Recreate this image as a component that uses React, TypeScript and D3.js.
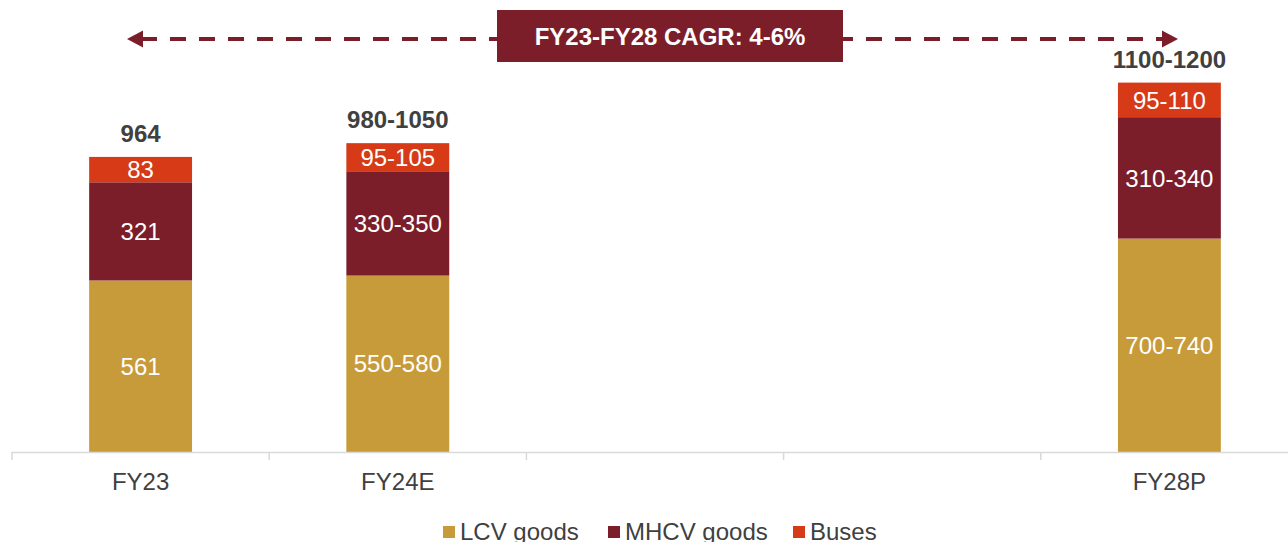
import React from "react";
import * as d3 from "d3";

const categories = ["FY23", "FY24E", "", " ", "FY28P"];
const lcvValues = [561, 577, null, null, 698];
const mhcvValues = [321, 341, null, null, 397];
const busValues = [83, 92, null, null, 113];
const lcvLabels = ["561", "550-580", "", "", "700-740"];
const mhcvLabels = ["321", "330-350", "", "", "310-340"];
const busLabels = ["83", "95-105", "", "", "95-110"];
const totalLabels = ["964", "980-1050", "", "", "1100-1200"];
const seriesNames = ["LCV goods", "MHCV goods", "Buses"];
const seriesColors = ["#C89B3A", "#7B1E2A", "#D63A16"];
const cagrText = "FY23-FY28 CAGR: 4-6%";

const W = 1288;
const H = 542;

export default function App() {
  const x = d3
    .scaleBand<string>()
    .domain(categories)
    .range([12, 1298])
    .paddingInner(0.6)
    .paddingOuter(0.3);
  const step = x.step();
  const y = d3.scaleLinear().domain([0, 1210]).range([452, 82]);

  const series = [lcvValues, mhcvValues, busValues];
  const labels = [lcvLabels, mhcvLabels, busLabels];

  const bars: React.ReactNode[] = [];
  categories.forEach((c, i) => {
    if (lcvValues[i] == null) return;
    let acc = 0;
    const bx = x(c)!;
    const bw = x.bandwidth();
    series.forEach((s, k) => {
      const v = s[i] as number;
      const y0 = y(acc);
      const y1 = y(acc + v);
      acc += v;
      bars.push(
        <g key={`${i}-${k}`}>
          <rect x={bx} y={y1} width={bw} height={y0 - y1} fill={seriesColors[k]} />
          <text
            x={bx + bw / 2}
            y={(y0 + y1) / 2}
            dy="0.36em"
            textAnchor="middle"
            fill="#ffffff"
            fontSize={24}
          >
            {labels[k][i]}
          </text>
        </g>
      );
    });
    bars.push(
      <text
        key={`t-${i}`}
        x={bx + bw / 2}
        y={y(acc) - 15}
        textAnchor="middle"
        fill="#404040"
        fontSize={24}
        fontWeight="bold"
      >
        {totalLabels[i]}
      </text>
    );
  });

  const ticks = d3.range(categories.length + 1).map((i) => 12 + i * step);
  const arrowY = 39;
  const arrowColor = "#7B1E2A";
  const leftTip = 127;
  const rightTip = 1178;

  const legendX = [443, 608, 793];

  return (
    <svg
      width={W}
      height={H}
      style={{ position: "absolute", left: 0, top: 0, fontFamily: "Arial, 'Liberation Sans', sans-serif" }}
    >
      <rect width={W} height={H} fill="#ffffff" />
      {/* arrow */}
      <line
        x1={leftTip + 14}
        x2={rightTip - 14}
        y1={arrowY}
        y2={arrowY}
        stroke={arrowColor}
        strokeWidth={4}
        strokeDasharray="16 13"
      />
      <path d={`M${leftTip},${arrowY} L${leftTip + 16},${arrowY - 8.5} L${leftTip + 16},${arrowY + 8.5} Z`} fill={arrowColor} />
      <path d={`M${rightTip},${arrowY} L${rightTip - 16},${arrowY - 8.5} L${rightTip - 16},${arrowY + 8.5} Z`} fill={arrowColor} />
      <rect x={497} y={10} width={346} height={52} fill={arrowColor} />
      <text x={670} y={36} dy="0.36em" textAnchor="middle" fill="#ffffff" fontSize={24} fontWeight="bold">
        {cagrText}
      </text>

      {bars}

      {/* axis */}
      <line x1={12} x2={1298} y1={452.5} y2={452.5} stroke="#D9D9D9" strokeWidth={1.5} />
      {ticks.map((t, i) => (
        <line key={i} x1={t} x2={t} y1={452} y2={460} stroke="#D9D9D9" strokeWidth={1.5} />
      ))}
      {categories.map((c) => (
        <text
          key={c}
          x={x(c)! + x.bandwidth() / 2}
          y={481}
          dy="0.36em"
          textAnchor="middle"
          fill="#404040"
          fontSize={24}
        >
          {c.trim()}
        </text>
      ))}

      {/* legend */}
      {seriesNames.map((n, k) => (
        <g key={n}>
          <rect x={legendX[k]} y={526} width={12} height={12} fill={seriesColors[k]} />
          <text x={legendX[k] + 17} y={540} fill="#404040" fontSize={24}>
            {n}
          </text>
        </g>
      ))}
    </svg>
  );
}
